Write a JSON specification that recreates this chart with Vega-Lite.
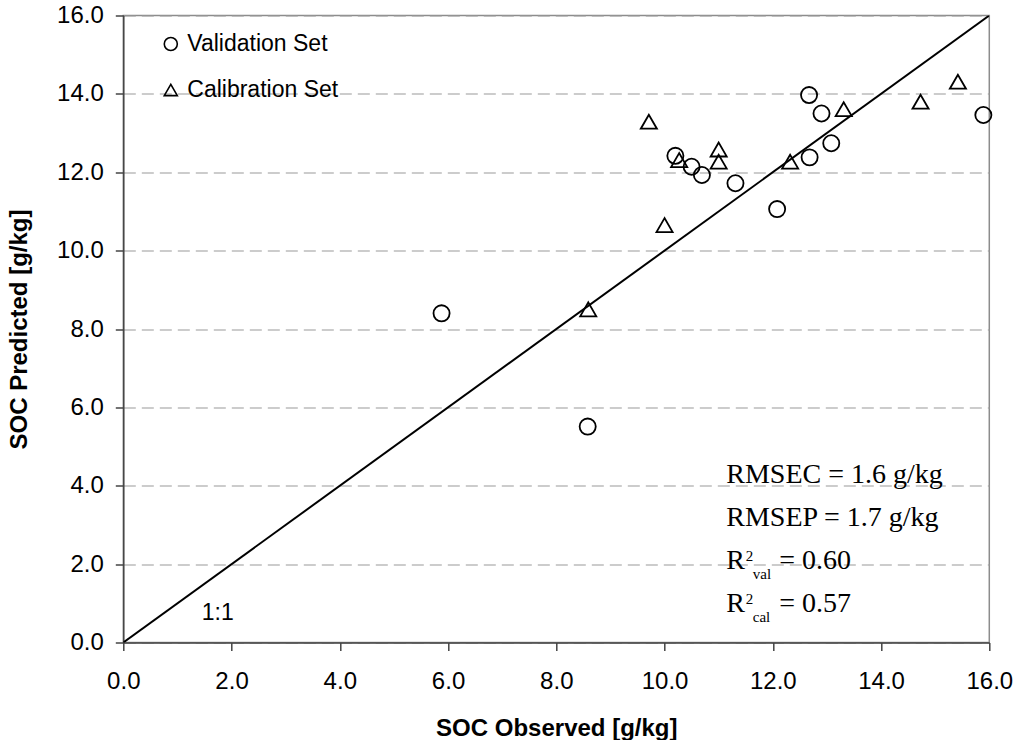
{
  "$schema": "https://vega.github.io/schema/vega-lite/v6.json",
  "width": 866,
  "height": 627,
  "autosize": {"type": "none"},
  "padding": {"left": 123.3, "top": 15.5, "right": 29.7, "bottom": 97.5},
  "background": "white",
  "config": {
    "view": {"stroke": "#8c8c8c", "strokeWidth": 1.5},
    "font": "Liberation Sans",
    "axis": {
      "labelFont": "Liberation Sans",
      "labelFontSize": 24,
      "labelColor": "black",
      "titleFont": "Liberation Sans",
      "titleFontSize": 24,
      "titleFontWeight": "bold",
      "titleColor": "black",
      "tickSize": 8,
      "tickColor": "#444444",
      "tickWidth": 1.5,
      "domainColor": "#444444",
      "domainWidth": 1.5,
      "labelFlush": false,
      "labelOverlap": false
    }
  },
  "datasets": {
    "oneone": [{"x": 0, "y": 0}, {"x": 16, "y": 16}],
    "points": [
      {"x": 9.71, "y": 13.29, "set": "Calibration Set"},
      {"x": 10.27, "y": 12.31, "set": "Calibration Set"},
      {"x": 11.0, "y": 12.58, "set": "Calibration Set"},
      {"x": 11.0, "y": 12.27, "set": "Calibration Set"},
      {"x": 10.0, "y": 10.65, "set": "Calibration Set"},
      {"x": 12.32, "y": 12.27, "set": "Calibration Set"},
      {"x": 13.31, "y": 13.61, "set": "Calibration Set"},
      {"x": 14.73, "y": 13.8, "set": "Calibration Set"},
      {"x": 15.42, "y": 14.31, "set": "Calibration Set"},
      {"x": 8.59, "y": 8.5, "set": "Calibration Set"},
      {"x": 10.2, "y": 12.42, "set": "Validation Set"},
      {"x": 10.5, "y": 12.14, "set": "Validation Set"},
      {"x": 10.69, "y": 11.93, "set": "Validation Set"},
      {"x": 11.31, "y": 11.72, "set": "Validation Set"},
      {"x": 12.08, "y": 11.06, "set": "Validation Set"},
      {"x": 12.67, "y": 13.97, "set": "Validation Set"},
      {"x": 12.9, "y": 13.5, "set": "Validation Set"},
      {"x": 12.68, "y": 12.38, "set": "Validation Set"},
      {"x": 13.08, "y": 12.74, "set": "Validation Set"},
      {"x": 15.89, "y": 13.46, "set": "Validation Set"},
      {"x": 5.88, "y": 8.4, "set": "Validation Set"},
      {"x": 8.58, "y": 5.51, "set": "Validation Set"}
    ],
    "mainText": [
      {"x": 11.14, "y": 4.06, "t": "RMSEC = 1.6 g/kg"},
      {"x": 11.14, "y": 2.97, "t": "RMSEP = 1.7 g/kg"},
      {"x": 11.14, "y": 1.87, "t": "R"},
      {"x": 11.14, "y": 0.77, "t": "R"}
    ],
    "eqText": [
      {"x": 11.14, "y": 1.87, "t": "= 0.60"},
      {"x": 11.14, "y": 0.77, "t": "= 0.57"}
    ],
    "supText": [
      {"x": 11.14, "y": 1.87, "t": "2"},
      {"x": 11.14, "y": 0.77, "t": "2"}
    ],
    "subText": [
      {"x": 11.14, "y": 1.87, "t": "val"},
      {"x": 11.14, "y": 0.77, "t": "cal"}
    ],
    "ratio": [{"x": 1.45, "y": 0.57, "t": "1:1"}]
  },
  "layer": [
    {
      "data": {"name": "oneone"},
      "mark": {"type": "line", "color": "black", "strokeWidth": 2, "clip": true},
      "encoding": {
        "x": {
          "field": "x", "type": "quantitative",
          "scale": {"domain": [0, 16], "nice": false, "zero": false},
          "axis": {
            "values": [0, 2, 4, 6, 8, 10, 12, 14, 16],
            "format": ".1f",
            "title": "SOC Observed [g/kg]",
            "titleY": 92.5,
            "titleBaseline": "alphabetic",
            "labelBaseline": "alphabetic",
            "labelPadding": 38,
            "grid": false
          }
        },
        "y": {
          "field": "y", "type": "quantitative",
          "scale": {"domain": [0, 16], "nice": false, "zero": false},
          "axis": {
            "values": [0, 2, 4, 6, 8, 10, 12, 14, 16],
            "format": ".1f",
            "title": "SOC Predicted [g/kg]",
            "titleX": -97,
            "titleY": 313.5,
            "titleBaseline": "alphabetic",
            "labelPadding": 12,
            "grid": true,
            "gridDash": [12, 6],
            "gridColor": "#9a9a9a",
            "gridWidth": 1.2
          }
        }
      }
    },
    {
      "data": {"name": "points"},
      "mark": {"type": "point", "filled": false, "color": "black", "strokeWidth": 1.8, "opacity": 1, "size": 260},
      "encoding": {
        "x": {"field": "x", "type": "quantitative"},
        "y": {"field": "y", "type": "quantitative"},
        "shape": {
          "field": "set", "type": "nominal",
          "scale": {"domain": ["Validation Set", "Calibration Set"], "range": ["circle", "triangle-up"]},
          "legend": {
            "orient": "none",
            "legendX": 36,
            "legendY": 17,
            "title": null,
            "padding": 0,
            "labelFont": "Liberation Sans",
            "labelFontSize": 23,
            "labelColor": "black",
            "symbolSize": 170,
            "symbolStrokeColor": "black",
            "symbolStrokeWidth": 1.6,
            "symbolFillColor": "transparent",
            "symbolOpacity": 1,
            "rowPadding": 22,
            "labelOffset": 5
          }
        }
      }
    },
    {
      "data": {"name": "mainText"},
      "mark": {"type": "text", "font": "Liberation Serif", "fontSize": 28, "align": "left", "baseline": "alphabetic", "color": "black"},
      "encoding": {
        "x": {"field": "x", "type": "quantitative"},
        "y": {"field": "y", "type": "quantitative"},
        "text": {"field": "t"}
      }
    },
    {
      "data": {"name": "eqText"},
      "mark": {"type": "text", "font": "Liberation Serif", "fontSize": 28, "align": "left", "baseline": "alphabetic", "color": "black", "dx": 53},
      "encoding": {
        "x": {"field": "x", "type": "quantitative"},
        "y": {"field": "y", "type": "quantitative"},
        "text": {"field": "t"}
      }
    },
    {
      "data": {"name": "supText"},
      "mark": {"type": "text", "font": "Liberation Serif", "fontSize": 15, "align": "left", "baseline": "alphabetic", "color": "black", "dx": 19.5, "dy": -8},
      "encoding": {
        "x": {"field": "x", "type": "quantitative"},
        "y": {"field": "y", "type": "quantitative"},
        "text": {"field": "t"}
      }
    },
    {
      "data": {"name": "subText"},
      "mark": {"type": "text", "font": "Liberation Serif", "fontSize": 15, "align": "left", "baseline": "alphabetic", "color": "black", "dx": 26.5, "dy": 10},
      "encoding": {
        "x": {"field": "x", "type": "quantitative"},
        "y": {"field": "y", "type": "quantitative"},
        "text": {"field": "t"}
      }
    },
    {
      "data": {"name": "ratio"},
      "mark": {"type": "text", "font": "Liberation Sans", "fontSize": 23, "align": "left", "baseline": "alphabetic", "color": "black"},
      "encoding": {
        "x": {"field": "x", "type": "quantitative"},
        "y": {"field": "y", "type": "quantitative"},
        "text": {"field": "t"}
      }
    }
  ]
}
